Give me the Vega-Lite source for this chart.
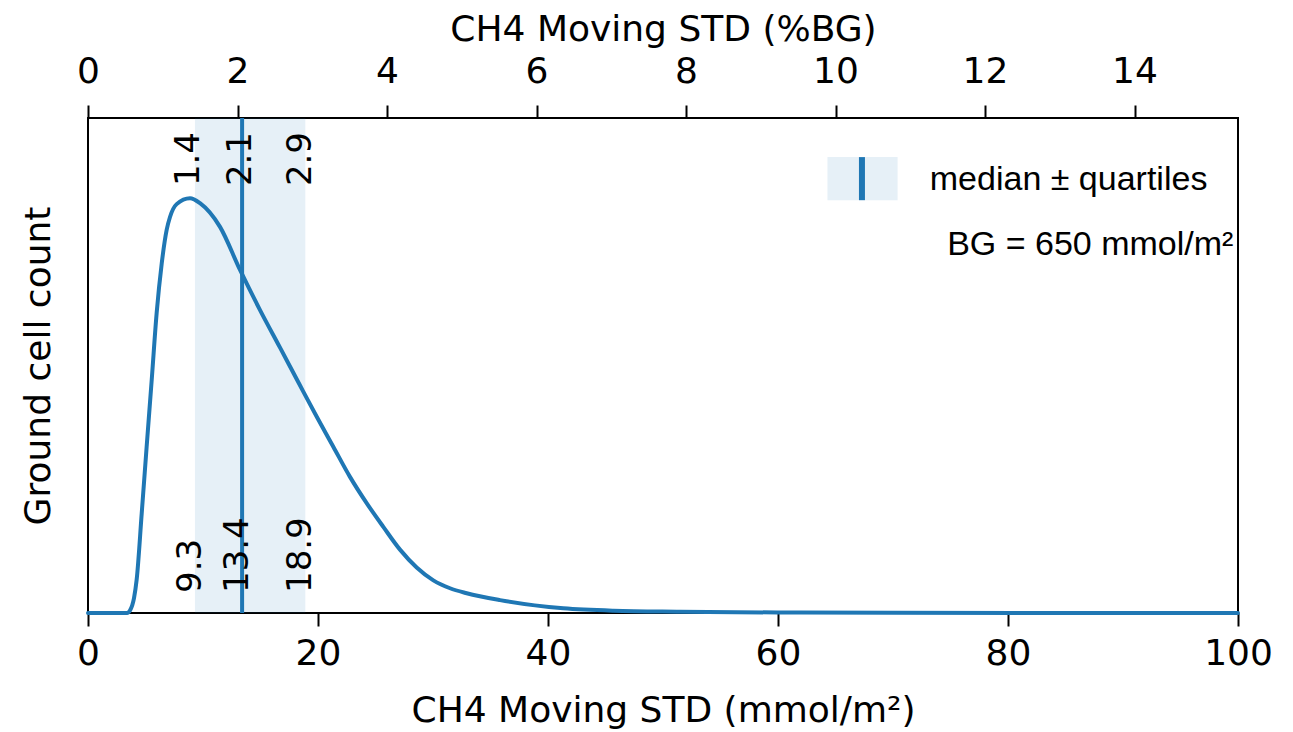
{
  "$schema": "https://vega.github.io/schema/vega-lite/v6.json",
  "width": 1150,
  "height": 495,
  "autosize": {"type": "none"},
  "padding": {"left": 88, "top": 118, "right": 55, "bottom": 119},
  "background": "white",
  "config": {
    "view": {"stroke": "black", "strokeWidth": 2},
    "axis": {
      "domain": false,
      "grid": false,
      "labelFlush": false,
      "tickColor": "black",
      "tickWidth": 2,
      "tickSize": 13,
      "labelFont": "DejaVu Sans",
      "labelFontSize": 36,
      "labelColor": "black",
      "titleFont": "DejaVu Sans",
      "titleFontSize": 36,
      "titleFontWeight": "normal",
      "titleColor": "black"
    }
  },
  "datasets": {
    "curve": [
      {"mmol": 0, "count": 0}, {"mmol": 3.4, "count": 0}, {"mmol": 3.65, "count": 0.005},
      {"mmol": 4.0, "count": 0.03}, {"mmol": 4.23, "count": 0.067}, {"mmol": 4.67, "count": 0.201},
      {"mmol": 5.1, "count": 0.336}, {"mmol": 5.54, "count": 0.471}, {"mmol": 5.97, "count": 0.606},
      {"mmol": 6.41, "count": 0.706}, {"mmol": 6.84, "count": 0.774}, {"mmol": 7.13, "count": 0.8},
      {"mmol": 7.71, "count": 0.826}, {"mmol": 8.87, "count": 0.838}, {"mmol": 9.74, "count": 0.828},
      {"mmol": 11.48, "count": 0.78}, {"mmol": 13.22, "count": 0.693},
      {"mmol": 14.96, "count": 0.612}, {"mmol": 16.7, "count": 0.536}, {"mmol": 18.43, "count": 0.46},
      {"mmol": 19.88, "count": 0.397}, {"mmol": 21.33, "count": 0.336}, {"mmol": 22.78, "count": 0.275},
      {"mmol": 24.23, "count": 0.222}, {"mmol": 25.68, "count": 0.174}, {"mmol": 27.13, "count": 0.128},
      {"mmol": 28.58, "count": 0.092}, {"mmol": 30.03, "count": 0.066}, {"mmol": 31.48, "count": 0.05},
      {"mmol": 32.93, "count": 0.04}, {"mmol": 35.83, "count": 0.026}, {"mmol": 41.33, "count": 0.0095},
      {"mmol": 45.7, "count": 0.0047}, {"mmol": 51.5, "count": 0.0027}, {"mmol": 60, "count": 0.001},
      {"mmol": 70, "count": 0.0003}, {"mmol": 100, "count": 0}
    ],
    "mmolLabels": [
      {"mmol": 9.3, "label": "9.3"}, {"mmol": 13.4, "label": "13.4"}, {"mmol": 18.9, "label": "18.9"}
    ],
    "pctLabels": [
      {"pct": 1.4, "label": "1.4"}, {"pct": 2.1, "label": "2.1"}, {"pct": 2.9, "label": "2.9"}
    ],
    "one": [{}]
  },
  "layer": [
    {
      "layer": [
        {
          "data": {"name": "one"},
          "mark": {"type": "rect", "color": "#1f77b4", "opacity": 0.11},
          "encoding": {
            "x": {"datum": 9.3, "type": "quantitative", "scale": {"domain": [0, 100], "nice": false}},
            "x2": {"datum": 18.9}
          }
        },
        {
          "data": {"name": "one"},
          "mark": {"type": "rule", "color": "#1f77b4", "strokeWidth": 4},
          "encoding": {"x": {"datum": 13.4, "type": "quantitative"}}
        },
        {
          "data": {"name": "curve"},
          "mark": {"type": "line", "color": "#1f77b4", "strokeWidth": 4, "interpolate": "monotone", "strokeCap": "round"},
          "encoding": {
            "x": {
              "field": "mmol", "type": "quantitative",
              "scale": {"domain": [0, 100], "nice": false},
              "axis": {"orient": "bottom", "values": [0, 20, 40, 60, 80, 100], "title": "CH4 Moving STD (mmol/m²)", "labelPadding": 10, "titlePadding": 22}
            },
            "y": {
              "field": "count", "type": "quantitative",
              "scale": {"domain": [0, 1], "nice": false},
              "axis": {"title": "Ground cell count", "labels": false, "ticks": false, "titlePadding": 31}
            }
          }
        },
        {
          "data": {"name": "mmolLabels"},
          "mark": {"type": "text", "angle": 270, "align": "left", "baseline": "alphabetic", "dx": 20, "dy": 6, "font": "DejaVu Sans", "fontSize": 34, "color": "black"},
          "encoding": {
            "x": {"field": "mmol", "type": "quantitative"},
            "y": {"datum": 0, "type": "quantitative"},
            "text": {"field": "label"}
          }
        },
        {
          "data": {"name": "one"},
          "mark": {"type": "rect", "color": "#1f77b4", "opacity": 0.11},
          "encoding": {
            "x": {"datum": 64.3, "type": "quantitative"},
            "x2": {"datum": 70.4},
            "y": {"datum": 0.834, "type": "quantitative"},
            "y2": {"datum": 0.921}
          }
        },
        {
          "data": {"name": "one"},
          "mark": {"type": "rule", "color": "#1f77b4", "strokeWidth": 6},
          "encoding": {
            "x": {"datum": 67.3, "type": "quantitative"},
            "y": {"datum": 0.834, "type": "quantitative"},
            "y2": {"datum": 0.921}
          }
        },
        {
          "data": {"name": "one"},
          "mark": {"type": "text", "text": "median ± quartiles", "align": "left", "baseline": "middle", "font": "Liberation Sans", "fontSize": 34, "color": "black"},
          "encoding": {
            "x": {"datum": 73.2, "type": "quantitative"},
            "y": {"datum": 0.875, "type": "quantitative"}
          }
        },
        {
          "data": {"name": "one"},
          "mark": {"type": "text", "text": "BG = 650 mmol/m²", "align": "right", "baseline": "middle", "font": "Liberation Sans", "fontSize": 34, "color": "black"},
          "encoding": {
            "x": {"datum": 99.6, "type": "quantitative"},
            "y": {"datum": 0.743, "type": "quantitative"}
          }
        }
      ]
    },
    {
      "data": {"name": "pctLabels"},
      "mark": {"type": "text", "angle": 270, "align": "right", "baseline": "alphabetic", "dx": -14, "dy": 6, "font": "DejaVu Sans", "fontSize": 34, "color": "black"},
      "encoding": {
        "x": {
          "field": "pct", "type": "quantitative",
          "scale": {"domain": [0, 15.384615], "nice": false},
          "axis": {"orient": "top", "values": [0, 2, 4, 6, 8, 10, 12, 14], "title": "CH4 Moving STD (%BG)", "labelPadding": 15, "titlePadding": 5}
        },
        "y": {"datum": 1, "type": "quantitative"},
        "text": {"field": "label"}
      }
    }
  ],
  "resolve": {"scale": {"x": "independent"}}
}
